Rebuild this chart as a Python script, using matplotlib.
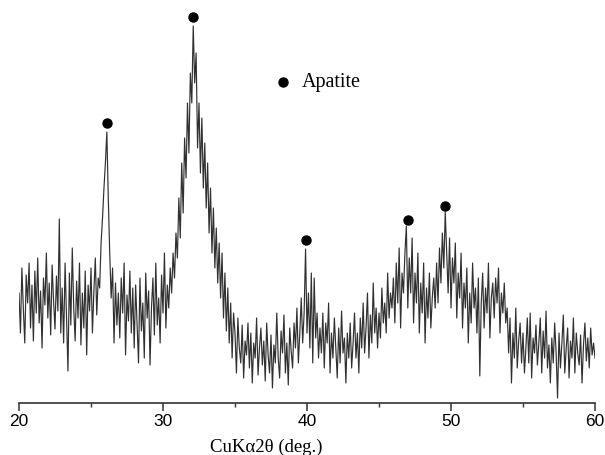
import numpy as np
import matplotlib
matplotlib.use("Agg")
import matplotlib.pyplot as plt
from matplotlib.ticker import MultipleLocator

# 2-theta from 20 to 60 deg, step 0.1 (401 points)
two_theta_start = 20.0
two_theta_step = 0.1
intensity = [
    110, 70, 135, 95, 60, 128, 100, 140, 75, 118,
    62, 132, 90, 145, 80, 112, 55, 125, 98, 150,
    85, 120, 68, 138, 102, 74, 127, 92, 184, 70,
    115, 60, 140, 88, 32, 130, 78, 155, 95, 62,
    122, 85, 140, 58, 110, 75, 132, 48, 118, 92,
    135, 70, 112, 145, 88, 125, 115, 160, 185, 215,
    240, 271, 205, 150, 105, 135, 60, 120, 78, 110,
    65, 125, 90, 140, 48, 108, 82, 132, 70, 115,
    55, 118, 80, 40, 125, 72, 100, 45, 130, 85,
    112, 38, 95, 125, 68, 140, 78, 105, 60, 128,
    90, 150, 75, 118, 95, 135, 110, 150, 125, 170,
    145, 205, 165, 240, 190, 265, 225, 300, 250, 330,
    300, 377, 320, 350, 255, 300, 230, 285, 215, 260,
    195, 240, 170, 215, 150, 195, 135, 175, 120, 160,
    105, 150, 85, 130, 72, 115, 60, 100, 45, 90,
    70, 30, 85, 55, 40, 78, 25, 62, 48, 80,
    35, 70, 20, 60, 45, 85, 28, 55, 75, 38,
    62, 22, 80, 48, 30, 68, 15, 58, 40, 90,
    45, 25, 72, 50, 88, 30, 60, 18, 75, 52,
    35, 80, 55, 95, 40, 70, 105, 60, 90, 154,
    70, 110, 55, 130, 40, 125, 65, 90, 45, 75,
    50, 90, 35, 80, 60, 100, 30, 70, 45, 85,
    55, 25, 75, 40, 92, 50, 65, 20, 70, 45,
    80, 35, 60, 90, 45, 70, 30, 85, 55, 100,
    50, 75, 110, 45, 88, 60, 120, 70, 95, 55,
    90, 65, 115, 80, 100, 70, 130, 85, 110, 95,
    125, 80, 140, 100, 155, 75, 130, 110, 150, 177,
    95, 145, 110, 165, 80, 130, 100, 150, 70, 120,
    90, 140, 60, 115, 85, 130, 75, 105, 125, 95,
    140, 100, 155, 120, 170, 135, 191, 150, 110, 165,
    95, 145, 120, 160, 85, 130, 105, 150, 75, 120,
    95, 135, 60, 110, 80, 140, 95, 115, 70, 125,
    27, 100, 130, 75, 115, 90, 140, 65, 105, 120,
    85, 125, 100, 135, 70, 110, 90, 120, 80, 95,
    50, 85, 20, 70, 45, 95, 35, 62, 80, 40,
    70, 30, 55, 85, 40, 90, 25, 65, 50, 78,
    38, 60, 85, 30, 72, 45, 92, 35, 58, 20,
    65, 40, 80, 50, 5, 70, 35, 60, 88, 30,
    55, 75, 25, 62, 45, 85, 30, 70, 50, 38,
    68, 20, 58, 80, 42, 65, 35, 75, 48, 60,
    45,
]
two_theta = two_theta_start + two_theta_step * np.arange(len(intensity))

# Apatite peak markers
apatite_pos = [26.1, 32.1, 39.9, 47.0, 49.6]
apatite_mark = [280, 386, 163, 183, 197]

legend_label = "Apatite"
legend_x, legend_y = 38.3, 321
xlabel = "CuK\u03b12\u03b8 (deg.)"
xticks = [20, 30, 40, 50, 60]

fig = plt.figure(figsize=(6.05, 4.56), dpi=100)
ax = fig.add_axes([19 / 605, 52 / 456, 576 / 605, 1 - 52 / 456])

ax.plot(two_theta, intensity, color="#303030", lw=0.85)
ax.plot(apatite_pos, apatite_mark, "o", color="black", ms=6.5, clip_on=False)
ax.plot([legend_x], [legend_y], "o", color="black", ms=6.5)
ax.text(legend_x + 1.35, legend_y, legend_label, fontsize=14.5,
        family="Liberation Serif", va="center", ha="left")

ax.set_xlim(20, 60)
ax.set_ylim(0, 404)
ax.set_xticks(xticks)
ax.xaxis.set_minor_locator(MultipleLocator(5))
ax.set_xticklabels([str(t) for t in xticks], family="Liberation Sans", fontsize=12.5)
ax.tick_params(axis="x", which="major", direction="out", length=5.5, width=1.1,
               pad=1.5, color="#333333")
ax.tick_params(axis="x", which="minor", direction="out", length=3, width=1.0,
               color="#333333")
ax.set_yticks([])
for s in ["left", "top", "right"]:
    ax.spines[s].set_visible(False)
ax.spines["bottom"].set_linewidth(1.2)
ax.spines["bottom"].set_color("#333333")

ax.set_xlabel(xlabel, family="Liberation Serif", fontsize=13.5)
ax.xaxis.set_label_coords((266 - 19) / 576, -0.085)

fig.savefig("out.png", dpi=100)
